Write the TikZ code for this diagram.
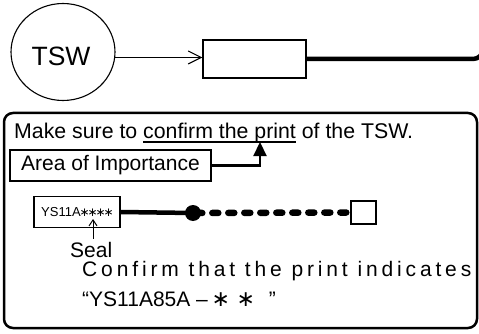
\documentclass[tikz,border=0pt]{standalone}
\usepackage{fontspec}
\setmainfont{Liberation Sans}
\newfontfamily\spacedfont[LetterSpace=18.4]{Liberation Sans}
\newfontfamily\symfont{DejaVu Sans}
\usetikzlibrary{shapes.geometric,arrows.meta}
\newcommand\myul[1]{\setbox0\hbox{#1}\rlap{\rule[-3.6pt]{\wd0}{1.4pt}}\box0\relax}
\newcommand\smallstar{\makebox[8pt]{\symfont\fontsize{12}{12}\selectfont ∗}}
\newcommand\bigstar{\makebox[12pt]{\symfont\fontsize{22}{22}\selectfont ∗}}
\begin{document}
\begin{tikzpicture}[x=1pt,y=-1pt,
  txt/.style={inner sep=0pt, font=\fontsize{21}{24}\selectfont},
  box/.style={draw, inner sep=0pt},
  thin/.style={line width=1.1pt}]
\useasboundingbox (0,0) rectangle (479,334);
\clip (0,0) rectangle (479,334);
% top row
\node[ellipse, box, thin, minimum width=104pt, minimum height=97pt] (tsw) at (63,52) {};
\node[inner sep=0pt, font=\fontsize{26.5}{30}\selectfont] (tswlabel) at (61,56.5) {TSW};
\node[box, thin, minimum width=103pt, minimum height=38pt] (blank) at (254.5,59) {};
\draw[thin, -{Straight Barb[length=13pt,width=13pt]}] (tsw.-6) -- (blank.west |- tsw.-6);
\coordinate (exitpt) at (483,0);
\draw[line width=4.5pt, rounded corners=10pt] (blank.east) -- (exitpt |- blank.east) -- (exitpt);
% lower frame
\node[box, line width=2.5pt, rounded corners=9pt, minimum width=473pt, minimum height=215pt] (frame) at (240.5,220.5) {};
\node[inner sep=0pt, anchor=base west, font=\fontsize{21.3}{24}\selectfont] (make) at (14,139) {Make sure to \myul{confirm the print} of the TSW.};
\node[box, txt, line width=2.5pt, minimum width=201pt, minimum height=31pt] (area) at (110.5,165.5) {Area of Importance};
\coordinate (ulpt) at (260,142);
\draw[line width=2.2pt, -{Triangle[length=14pt,width=13pt]}] (area.east) -| (ulpt);
% seal row
\node[box, line width=1.3pt, minimum width=86pt, minimum height=31pt] (sealbox) at (77,212) {\fontsize{13}{13}\selectfont YS11A\smallstar\smallstar\smallstar\smallstar};
\node[txt, anchor=base west] (seal) at (70,257) {Seal};
\coordinate (sealtip) at (93,219);
\draw[line width=1pt, -{Straight Barb[length=6pt,width=8pt]}] ([yshift=3pt]seal.north -| sealtip) -- (sealtip);
\node[box, line width=1.5pt, minimum width=25pt, minimum height=23pt] (sq) at (363.5,212.5) {};
\coordinate (dc) at (193,213);
\draw[line width=4.5pt] (sealbox.east) -- (dc);
\draw[line width=6.5pt, line cap=round, dash pattern=on 6pt off 10pt, dash phase=12.7pt] (dc) -- (sq.west);
\node[circle, fill, inner sep=0pt, minimum size=16pt] (dot) at (dc) {};
% text lines
\node[inner sep=0pt, anchor=base west, font=\spacedfont\fontsize{21}{24}\selectfont] (conf) at (82,276) {Confirm that the print indicates};
\node[txt, anchor=base west] (code) at (82,306) {“YS11A85A –\hspace{7pt}\bigstar\hspace{13pt}\bigstar\hspace{17pt}”};
\end{tikzpicture}
\end{document}
